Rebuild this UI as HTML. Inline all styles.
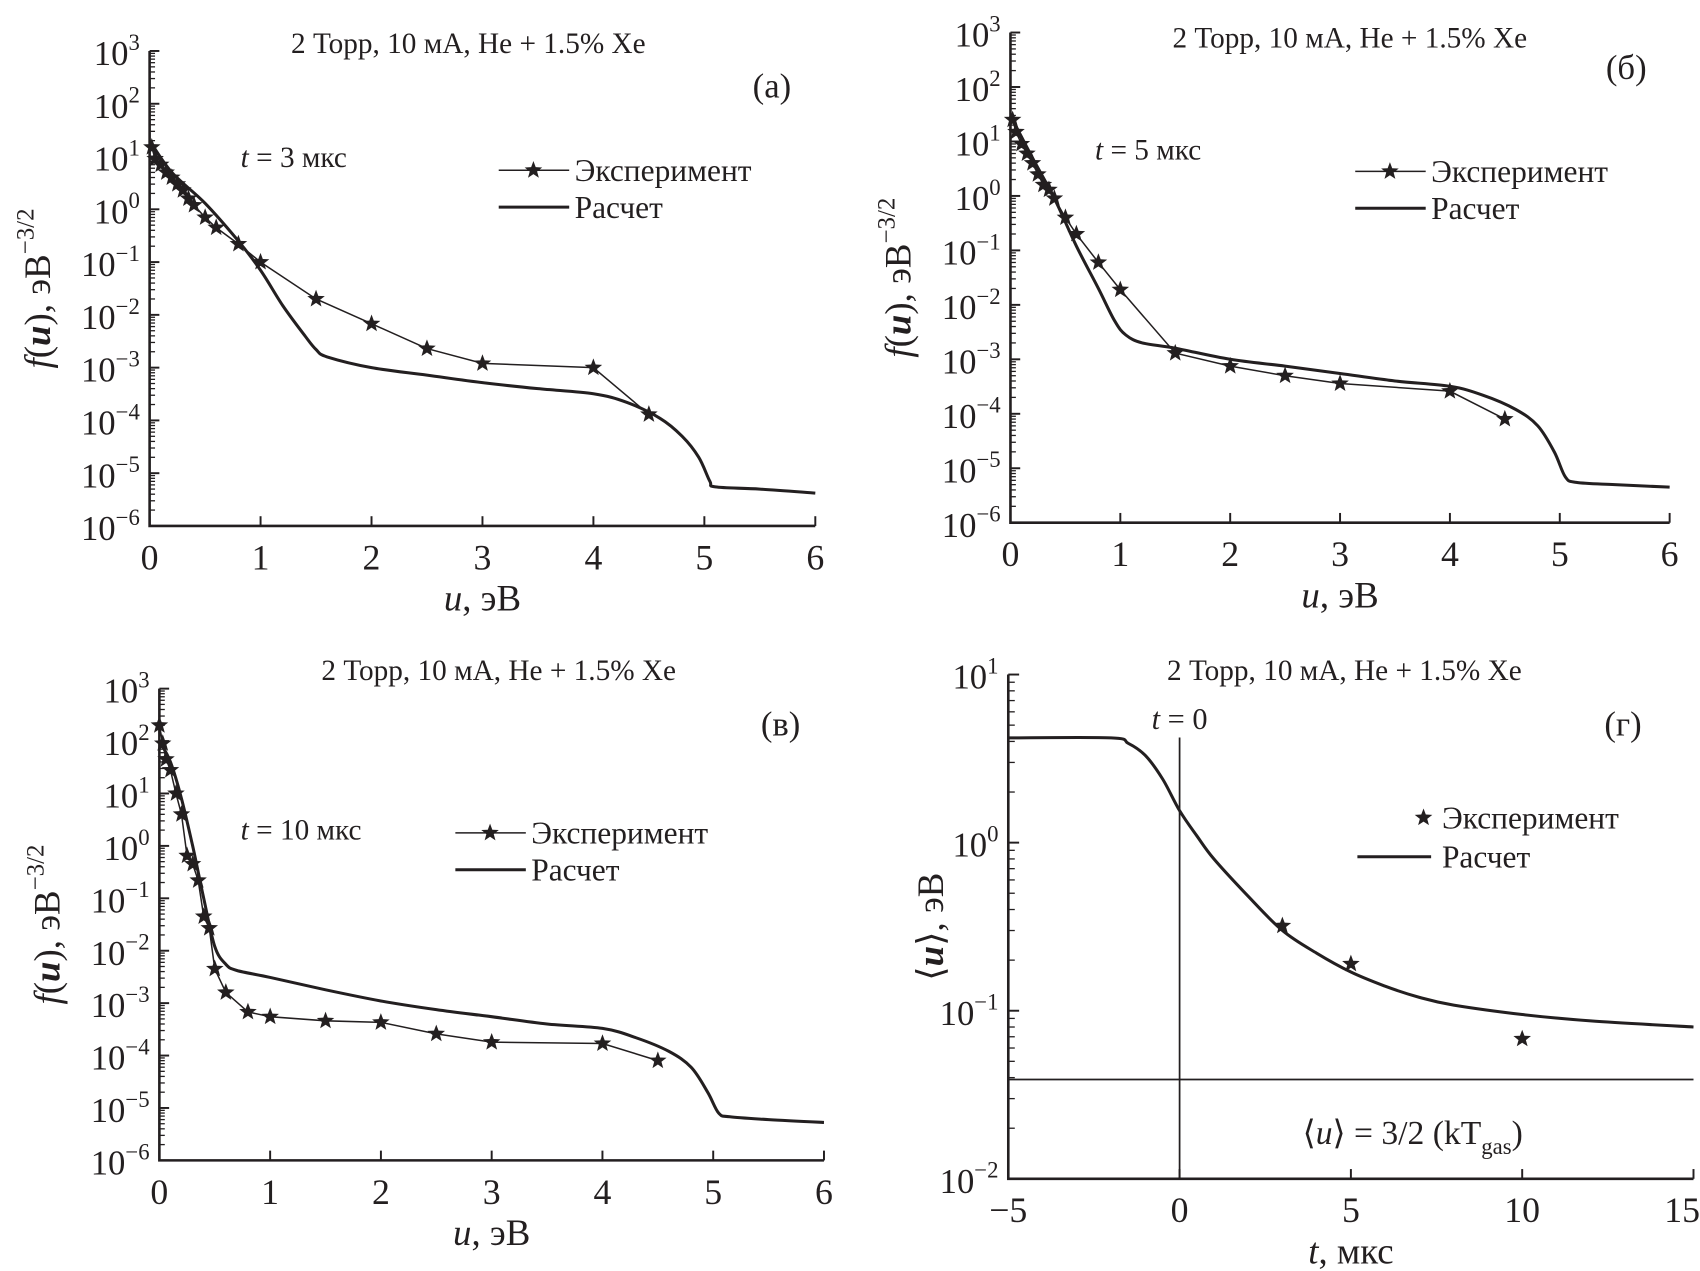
<!DOCTYPE html>
<html><head><meta charset="utf-8">
<style>
html,body{margin:0;padding:0;background:#fff;}
svg{display:block;}
text{font-family:"Liberation Serif","DejaVu Serif",serif;fill:#231f20;}
</style></head>
<body>
<svg id="fig" width="1700" height="1271" viewBox="0 0 1568 1172" preserveAspectRatio="none" xmlns="http://www.w3.org/2000/svg"></svg>
<script>
// ---- Panel (a) data ----
const aExpU = [0.02,0.05,0.1,0.15,0.2,0.25,0.3,0.35,0.4,0.5,0.6,0.8,1,1.5,2,2.5,3,4,4.5];
const aExpF = [15,9,7,5,4,3,2.3,1.6,1.2,0.7,0.45,0.22,0.1,0.02,0.0068,0.0023,0.0012,0.001,0.00013];
const aCalcU = [0,0.2,0.5,0.8,1.0,1.2,1.4,1.5,1.6,2,2.5,3,3.5,4,4.3,4.6,4.8,4.95,5.05,5.1,5.5,6];
const aCalcF = [20,5,1.3,0.25,0.07,0.015,0.004,0.0022,0.0016,0.001,0.00072,0.00052,0.0004,0.00032,0.00022,0.00011,0.00005,0.00002,0.000007,0.0000055,0.000005,0.0000042];
// ---- Panel (б) data ----
const bExpU = [0.02,0.05,0.1,0.15,0.2,0.25,0.3,0.35,0.4,0.5,0.6,0.8,1,1.5,2,2.5,3,4,4.5];
const bExpF = [25,15,9,6,4,2.5,1.6,1.3,0.9,0.4,0.2,0.06,0.019,0.0013,0.00075,0.0005,0.00036,0.00026,0.00008];
const bCalcU = [0,0.2,0.4,0.6,0.8,0.95,1.05,1.2,1.5,2,2.5,3,3.5,4,4.3,4.6,4.8,4.95,5.05,5.15,5.5,6];
const bCalcF = [30,5,0.9,0.12,0.02,0.005,0.0028,0.002,0.0016,0.001,0.00075,0.00055,0.0004,0.00032,0.00022,0.00012,0.00006,0.00002,0.000007,0.0000055,0.000005,0.0000045];
// ---- Panel (в) data ----
const cExpU = [0,0.03,0.06,0.1,0.15,0.2,0.25,0.3,0.35,0.4,0.45,0.5,0.6,0.8,1,1.5,2,2.5,3,4,4.5];
const cExpF = [200,90,45,28,10,4,0.65,0.45,0.22,0.045,0.027,0.0045,0.0016,0.00068,0.00055,0.00046,0.00043,0.00026,0.00018,0.00017,0.00008];
const cCalcU = [0,0.1,0.2,0.3,0.4,0.5,0.6,0.7,1,1.5,2,2.5,3,3.5,4,4.3,4.6,4.8,4.95,5.05,5.15,5.5,6];
const cCalcF = [100,40,8,1,0.1,0.012,0.0055,0.0042,0.0031,0.0018,0.0011,0.00075,0.00055,0.0004,0.00033,0.00022,0.00012,0.00006,0.00002,0.000008,0.0000068,0.000006,0.0000053];
// ---- Panel (г) data ----
const dExpT = [3,5,10];
const dExpU = [0.32,0.19,0.068];
const dCalcT = [-5,-2,-1.5,-1,-0.5,0,0.5,1,2,3,4,5,6,7,8,10,12,15];
const dCalcU = [4.2,4.2,3.9,3.3,2.4,1.55,1.1,0.8,0.48,0.3,0.22,0.17,0.14,0.12,0.108,0.095,0.087,0.08];
const dGas = 0.039;
const fuTicks = [3,2,1,0,-1,-2,-3,-4,-5,-6];
const dTicks = [1,0,-1,-2];
const uTicks = [0,1,2,3,4,5,6];
const tTicks = [-5,0,5,10,15];

const NS = "http://www.w3.org/2000/svg";
const svg = document.getElementById('fig');
function mk(tag, attrs, parent){const e=document.createElementNS(NS,tag);for(const k in attrs)e.setAttribute(k,attrs[k]);(parent||svg).appendChild(e);return e;}
function txt(x,y,s,size,parent,anchor){const t=mk('text',{x:x,y:y,'font-size':size,'text-anchor':anchor||'middle'},parent);t.innerHTML=s;return t;}
function star(x,y,r,parent){let p='';for(let i=0;i<10;i++){const a=-Math.PI/2+i*Math.PI/5;const rr=i%2?r*0.42:r;p+=(i?'L':'M')+(x+rr*Math.cos(a)).toFixed(1)+' '+(y+rr*Math.sin(a)).toFixed(1);}return mk('path',{d:p+'Z',fill:'#231f20'},parent);}
function sup(base,exp){return base+'<tspan font-size="21" dy="-14">'+exp+'</tspan>';}
function smooth(pts){
  let d='M'+pts[0][0].toFixed(1)+' '+pts[0][1].toFixed(1);
  for(let i=0;i<pts.length-1;i++){
    const p0=pts[Math.max(i-1,0)],p1=pts[i],p2=pts[i+1],p3=pts[Math.min(i+2,pts.length-1)];
    const c1=[p1[0]+(p2[0]-p0[0])/6,p1[1]+(p2[1]-p0[1])/6];
    const c2=[p2[0]-(p3[0]-p1[0])/6,p2[1]-(p3[1]-p1[1])/6];
    d+=`C${c1[0].toFixed(1)} ${c1[1].toFixed(1)} ${c2[0].toFixed(1)} ${c2[1].toFixed(1)} ${p2[0].toFixed(1)} ${p2[1].toFixed(1)}`;
  }
  return d;
}

function fuPanel(o){
  const g=mk('g',{});
  
  
  const X=u=>o.x0+u*(o.x6-o.x0)/6;
  const Y=f=>o.yb-(Math.log10(f)+6)*(o.yb-o.yt)/9;
  const ax=mk('path',{d:`M${o.x0} ${o.yt}V${o.yb}H${o.x6}`,stroke:'#231f20','stroke-width':2.4,fill:'none'},g);
  
  for(const d of fuTicks){
    const y=Y(Math.pow(10,d));
    mk('line',{x1:o.x0,y1:y,x2:o.x0+9,y2:y,stroke:'#231f20','stroke-width':1.8},g);
    const t=txt(o.x0-9,y+13,sup('10',d<0?'−'+(-d):d),32,g,'end');
    
    if(d>-6)for(let m=2;m<10;m++){const ym=Y(m*Math.pow(10,d-1));mk('line',{x1:o.x0,y1:ym,x2:o.x0+5,y2:ym,stroke:'#231f20','stroke-width':1.2},g);}
  }
  for(const u of uTicks){
    const x=X(u);mk('line',{x1:x,y1:o.yb,x2:x,y2:o.yb-9,stroke:'#231f20','stroke-width':1.8},g);
    const t=txt(x,o.yb+40,u,33,g);
  }
  const xl=txt((o.x0+o.x6)/2,o.yb+78,'<tspan font-style="italic">u</tspan>, эВ',34,g);
  
  const yl=mk('text',{x:0,y:0,'font-size':34,'text-anchor':'middle',transform:`translate(${o.x0-92},${(o.yt+o.yb)/2}) rotate(-90)`},g);
  yl.innerHTML='<tspan font-style="italic">f</tspan>(<tspan font-style="italic" font-weight="bold">u</tspan>), эВ<tspan font-size="23" dy="-15">−3/2</tspan>';
  
  const ti=txt(o.titleX,o.titleY,'2 Торр, 10 мА, He + 1.5% Xe',27,g);
  
  const pl=txt(o.x6-40,o.yt+43,o.letter,32,g);
  const tl=txt(o.tX,o.tY,'<tspan font-style="italic">t</tspan> = '+o.tlab,27,g,'start');
  
  const cp=mk('path',{d:smooth(o.cu.map((u,i)=>[X(u),Y(o.cf[i])])),stroke:'#231f20','stroke-width':2.8,fill:'none','stroke-linejoin':'round'},g);
  
  const ep=mk('path',{d:o.eu.map((u,i)=>(i?'L':'M')+X(u).toFixed(1)+' '+Y(o.ef[i]).toFixed(1)).join(''),stroke:'#231f20','stroke-width':1.4,fill:'none'},g);
  
  o.eu.forEach((u,i)=>{const s=star(X(u),Y(o.ef[i]),8.5,g);});
  const lg=mk('g',{},g);
  mk('line',{x1:o.lx,y1:o.ly,x2:o.lx+65,y2:o.ly,stroke:'#231f20','stroke-width':1.4},lg);
  star(o.lx+32,o.ly,8.5,lg);
  txt(o.lx+70,o.ly+10,'Эксперимент',29,lg,'start');
  mk('line',{x1:o.lx,y1:o.ly+34,x2:o.lx+65,y2:o.ly+34,stroke:'#231f20','stroke-width':2.8},lg);
  txt(o.lx+70,o.ly+44,'Расчет',29,lg,'start');
}

fuPanel({name:'panel-a',x0:138,x6:752,yt:47,yb:485,titleX:432,titleY:49,letter:'(a)',tX:222,tY:154,tlab:'3 мкс',lx:460,ly:157,eu:aExpU,ef:aExpF,cu:aCalcU,cf:aCalcF});
fuPanel({name:'panel-b',x0:932,x6:1540,yt:30,yb:482,titleX:1245,titleY:44,letter:'(б)',tX:1010,tY:147,tlab:'5 мкс',lx:1250,ly:158,eu:bExpU,ef:bExpF,cu:bCalcU,cf:bCalcF});
fuPanel({name:'panel-v',x0:147,x6:760,yt:635,yb:1070,titleX:460,titleY:627,letter:'(в)',tX:222,tY:774,tlab:'10 мкс',lx:420,ly:768,eu:cExpU,ef:cExpF,cu:cCalcU,cf:cCalcF});

// Panel (г)
(function(){
  const g=mk('g',{});
  
  
  const x0=930,x1=1562,yt=622,yb=1087;
  const X=t=>x0+(t+5)*(x1-x0)/20;
  const Y=v=>yb-(Math.log10(v)+2)*(yb-yt)/3;
  const ax=mk('path',{d:`M${x0} ${yt}V${yb}H${x1}`,stroke:'#231f20','stroke-width':2.4,fill:'none'},g);
  
  for(const d of dTicks){
    const y=Y(Math.pow(10,d));
    mk('line',{x1:x0,y1:y,x2:x0+10,y2:y,stroke:'#231f20','stroke-width':1.8},g);
    const t=txt(x0-9,y+13,sup('10',d<0?'−'+(-d):d),32,g,'end');
    
    if(d>-2)for(let m=2;m<10;m++){const ym=Y(m*Math.pow(10,d-1));mk('line',{x1:x0,y1:ym,x2:x0+6,y2:ym,stroke:'#231f20','stroke-width':1.2},g);}
  }
  for(const t of tTicks){
    const x=X(t);mk('line',{x1:x,y1:yb,x2:x,y2:yb-9,stroke:'#231f20','stroke-width':1.8},g);
    const l=txt(t===15?x+6:x,yb+40,t<0?'−'+(-t):t,33,g,t===15?'end':'middle');
  }
  const xl=txt((x0+x1)/2,yb+78,'<tspan font-style="italic">t</tspan>, мкс',34,g);
  
  const yl=mk('text',{x:0,y:0,'font-size':34,'text-anchor':'middle',transform:`translate(${x0-60},${(yt+yb)/2}) rotate(-90)`},g);
  yl.innerHTML='⟨<tspan font-style="italic" font-weight="bold">u</tspan>⟩, эВ';
  
  const ti=txt(1240,627,'2 Торр, 10 мА, He + 1.5% Xe',27,g);
  const pl=txt(1497,678,'(г)',32,g);
  const vl=mk('line',{x1:X(0),y1:680,x2:X(0),y2:yb,stroke:'#231f20','stroke-width':1.6},g);
  
  const tz=txt(X(0),672,'<tspan font-style="italic">t</tspan> = 0',28,g);
  const hl=mk('line',{x1:x0,y1:Y(dGas),x2:x1,y2:Y(dGas),stroke:'#231f20','stroke-width':1.6},g);
  
  const gl=txt(1303,1055,'⟨<tspan font-style="italic">u</tspan>⟩ = 3/2 (kT<tspan font-size="21" dy="9">gas</tspan><tspan dy="-9">)</tspan>',31,g);
  
  const cp=mk('path',{d:smooth(dCalcT.map((t,i)=>[X(t),Y(dCalcU[i])])),stroke:'#231f20','stroke-width':2.8,fill:'none','stroke-linejoin':'round'},g);
  
  dExpT.forEach((t,i)=>{const s=star(X(t),Y(dExpU[i]),8.5,g);});
  const lg=mk('g',{},g);
  star(1313,754,8.5,lg);
  txt(1330,764,'Эксперимент',29,lg,'start');
  mk('line',{x1:1252,y1:790,x2:1320,y2:790,stroke:'#231f20','stroke-width':2.8},lg);
  txt(1330,800,'Расчет',29,lg,'start');
})();
</script>
</body></html>
